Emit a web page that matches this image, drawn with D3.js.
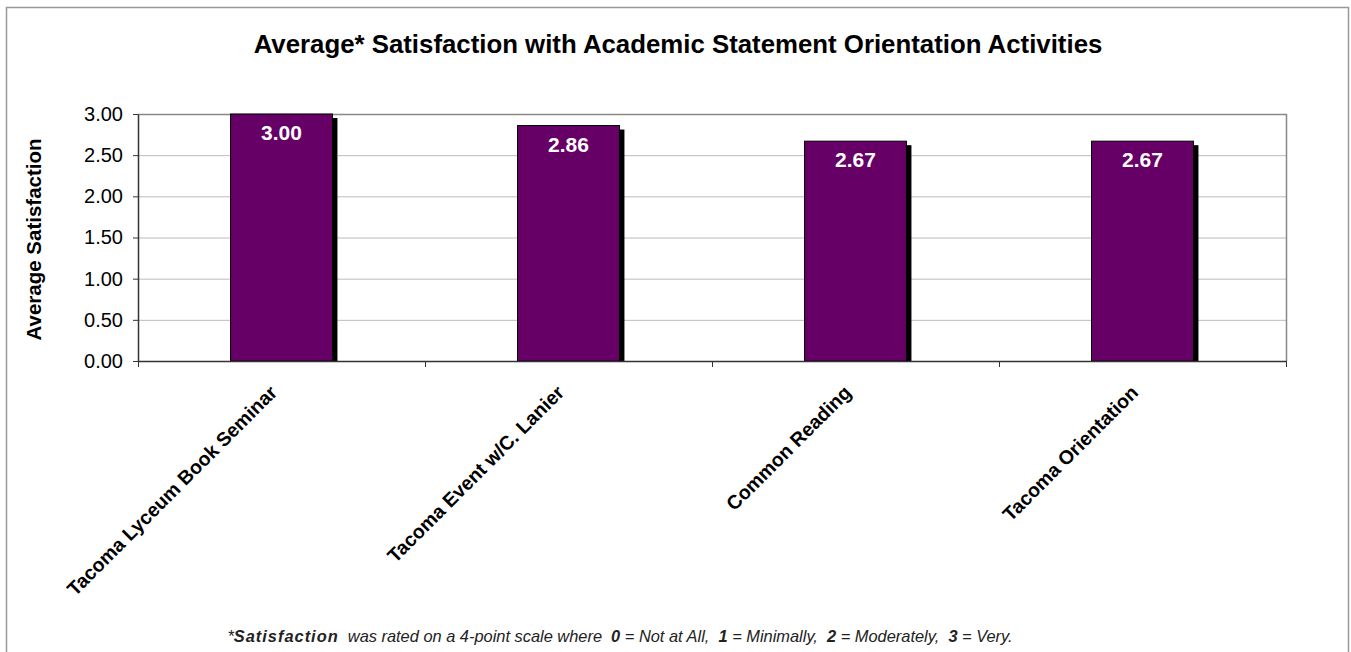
<!DOCTYPE html>
<html>
<head>
<meta charset="utf-8">
<script src="https://cdn.jsdelivr.net/npm/d3@7"></script>
<style>
  body { margin: 0; background: #fff; }
  svg { display: block; font-family: "Liberation Sans", Arial, sans-serif; }
</style>
</head>
<body>
<div id="chart"></div>
<script>
// Data
const categories = ["Tacoma Lyceum Book Seminar", "Tacoma Event w/C. Lanier", "Common Reading", "Tacoma Orientation"];
const values = [3.00, 2.86, 2.67, 2.67];
const yTicks = [0, 0.5, 1, 1.5, 2, 2.5, 3];

const width = 1351;
const height = 652;
const margin = { top: 114, right: 65, bottom: 291, left: 138 };

const svg = d3.select("#chart")
    .append("svg")
    .attr("width", width)
    .attr("height", height);

// outer chart border
svg.append("rect")
    .attr("x", 6.5)
    .attr("y", 7.5)
    .attr("width", 1342)
    .attr("height", 700)
    .attr("fill", "#fff")
    .attr("stroke", "#999")
    .attr("stroke-width", 1.5);

const x = d3.scaleBand()
    .domain(categories)
    .range([margin.left, width - margin.right]);

const y = d3.scaleLinear()
    .domain([0, 3])
    .range([height - margin.bottom, margin.top]);

// gridlines
svg.append("g")
    .selectAll("line")
    .data(yTicks.filter(d => d > 0 && d < 3))
    .enter()
    .append("line")
    .attr("x1", margin.left)
    .attr("x2", width - margin.right)
    .attr("y1", d => y(d) + 0.5)
    .attr("y2", d => y(d) + 0.5)
    .attr("stroke", "#bbb")
    .attr("stroke-width", 1);

// plot area top + right border
svg.append("path")
    .attr("d", `M${margin.left},${y(3) + 0.5}H${width - margin.right + 0.5}V${y(0)}`)
    .attr("fill", "none")
    .attr("stroke", "#888")
    .attr("stroke-width", 1.5);

// bars with drop shadow
const bw = x.bandwidth() * 0.355;
const bars = svg.append("g")
    .selectAll("g")
    .data(categories)
    .enter()
    .append("g");

bars.append("rect")
    .attr("x", (d, i) => x(d) + x.bandwidth() / 2 - bw / 2 + 5)
    .attr("y", (d, i) => y(values[i]) + 4)
    .attr("width", bw)
    .attr("height", (d, i) => y(0) - y(values[i]) - 4)
    .attr("fill", "#000");

bars.append("rect")
    .attr("x", (d, i) => x(d) + x.bandwidth() / 2 - bw / 2)
    .attr("y", (d, i) => y(values[i]))
    .attr("width", bw)
    .attr("height", (d, i) => y(0) - y(values[i]))
    .attr("fill", "#660066")
    .attr("stroke", "#000")
    .attr("stroke-width", 1);

bars.append("text")
    .attr("x", d => x(d) + x.bandwidth() / 2)
    .attr("y", (d, i) => y(values[i]) + 26)
    .attr("text-anchor", "middle")
    .attr("fill", "#fff")
    .style("font-size", "21px")
    .style("font-weight", "bold")
    .text((d, i) => values[i].toFixed(2));

// y axis
const yAxis = svg.append("g")
    .attr("transform", `translate(${margin.left},0)`)
    .call(d3.axisLeft(y).tickValues(yTicks).tickFormat(d3.format(".2f")).tickSize(5).tickSizeOuter(0));
yAxis.select(".domain").attr("stroke", "#333").attr("stroke-width", 1.5);
yAxis.selectAll(".tick line").attr("stroke", "#333");
yAxis.selectAll(".tick text")
    .attr("x", -15)
    .attr("fill", "#000")
    .style("font-size", "20px")
    .style("font-family", "'Liberation Sans', Arial, sans-serif");

// x axis
const xAxis = svg.append("g")
    .attr("transform", `translate(0,${y(0)})`)
    .call(d3.axisBottom(x).tickSize(0).tickSizeOuter(0).tickFormat(""));
xAxis.select(".domain").attr("stroke", "#333").attr("stroke-width", 1.5);

// category boundary ticks
svg.append("g")
    .selectAll("line")
    .data(d3.range(categories.length + 1))
    .enter()
    .append("line")
    .attr("x1", i => margin.left + i * x.bandwidth() + 0.5)
    .attr("x2", i => margin.left + i * x.bandwidth() + 0.5)
    .attr("y1", y(0))
    .attr("y2", y(0) + 6)
    .attr("stroke", "#333");

// rotated category labels
svg.append("g")
    .selectAll("text")
    .data(categories)
    .enter()
    .append("text")
    .attr("transform", d => `translate(${x(d) + x.bandwidth() / 2 - 8},${y(0) + 28}) rotate(-45)`)
    .attr("text-anchor", "end")
    .attr("dy", "0.35em")
    .attr("fill", "#000")
    .style("font-size", "19.5px")
    .style("font-weight", "bold")
    .text(d => d);

// titles
svg.append("text")
    .attr("x", 678)
    .attr("y", 53)
    .attr("text-anchor", "middle")
    .style("font-size", "25.8px")
    .style("font-weight", "bold")
    .text("Average* Satisfaction with Academic Statement Orientation Activities");

svg.append("text")
    .attr("transform", `translate(41,${(y(0) + y(3)) / 2 + 2}) rotate(-90)`)
    .attr("text-anchor", "middle")
    .style("font-size", "20.5px")
    .style("font-weight", "bold")
    .text("Average Satisfaction");

// footnote
const note = svg.append("text")
    .attr("x", 620)
    .attr("y", 642)
    .attr("text-anchor", "middle")
    .style("font-size", "16.4px")
    .style("font-style", "italic")
    .attr("fill", "#222");
const noteParts = [
    ["*", false], ["Satisfaction", true], ["  was rated on a 4-point scale where  ", false],
    ["0", true], [" = Not at All,  ", false], ["1", true], [" = Minimally,  ", false],
    ["2", true], [" = Moderately,  ", false], ["3", true], [" = Very.", false]
];
note.selectAll("tspan")
    .data(noteParts)
    .enter()
    .append("tspan")
    .style("font-weight", d => d[1] ? "bold" : "normal")
    .style("letter-spacing", d => d[0] === "Satisfaction" ? "1px" : null)
    .style("white-space", "pre")
    .text(d => d[0]);
</script>
</body>
</html>
